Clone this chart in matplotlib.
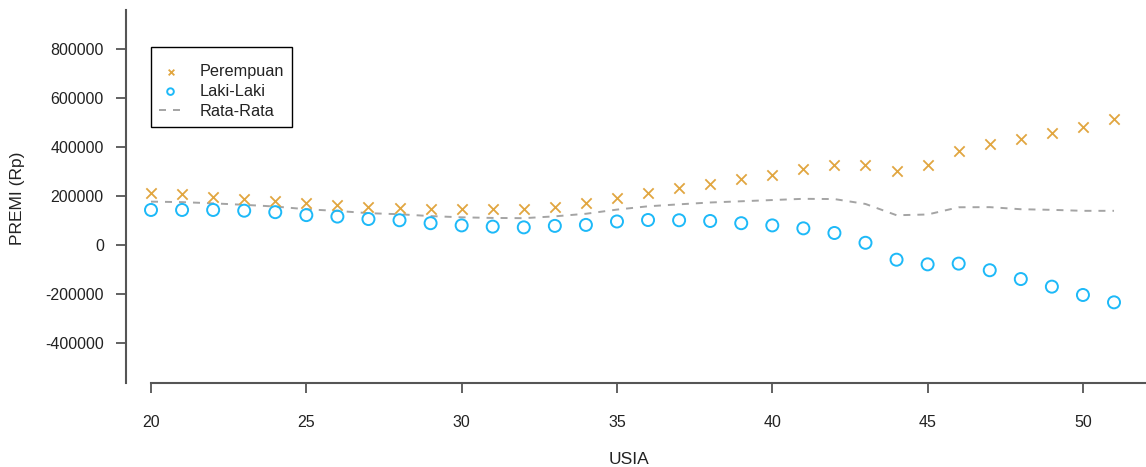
import matplotlib.pyplot as plt

usia = list(range(20, 52))

perempuan = [
    211000, 207000, 197000, 188000, 180000, 170000, 162000, 154000,
    150000, 147000, 146000, 146000, 147000, 156000, 173000, 193000,
    214000, 231000, 249000, 268000, 287000, 309000, 326000, 326000,
    303000, 328000, 384000, 412000, 431000, 457000, 483000, 513000,
]
laki_laki = [
    143000, 143000, 143000, 140000, 134000, 122000, 116000, 106000,
    101000, 89000, 80000, 75000, 72000, 78000, 82000, 96000,
    102000, 101000, 98000, 89000, 80000, 68000, 49000, 9000,
    -60000, -79000, -76000, -103000, -139000, -170000, -204000, -234000,
]
rata_rata = [(p + l) / 2 for p, l in zip(perempuan, laki_laki)]

y_ticks = [-400000, -200000, 0, 200000, 400000, 600000, 800000]
x_ticks = [20, 25, 30, 35, 40, 45, 50]

W, H = 1146, 467
plt.rcParams["font.family"] = ["Liberation Sans", "DejaVu Sans"]
fig = plt.figure(figsize=(W / 100, H / 100), dpi=100)

# plot region in pixels: left 126, right 1146, top 10, bottom 383
ax = fig.add_axes([126 / W, 1 - 383 / H, (1146 - 126) / W, (383 - 10) / H])

ax.scatter(usia, perempuan, marker="x", s=55, color="#E1A640", linewidths=1.3,
           label="Perempuan", zorder=3)
ax.scatter(usia, laki_laki, marker="o", s=75, facecolors="none",
           edgecolors="#1DB9F8", linewidths=1.4, label="Laki-Laki", zorder=3)
ax.plot(usia, rata_rata, linestyle=(0, (3.6, 3.6)), color="#A4A4A4",
        linewidth=1.4, label="Rata-Rata", zorder=2)

ax.set_xlim(19.195, 52.03)
ax.set_ylim(-563265, 959184)

for side in ["top", "right"]:
    ax.spines[side].set_visible(False)
for side in ["left", "bottom"]:
    ax.spines[side].set_color("#555555")
    ax.spines[side].set_linewidth(1.5)
ax.spines["bottom"].set_bounds(20, 52.03)

ax.set_xticks(x_ticks)
ax.set_yticks(y_ticks)
ax.set_yticklabels([str(v) for v in y_ticks])
ax.tick_params(axis="x", length=7, width=1.3, color="#555555", pad=16,
               labelsize=11.5, labelcolor="#222222")
ax.tick_params(axis="y", length=7, width=1.3, color="#555555", pad=9,
               labelsize=11.5, labelcolor="#222222")

fig.text(629 / W, 1 - 460 / H, "USIA", ha="center", va="center",
         fontsize=12.5, color="#222222")
fig.text(18 / W, 1 - 198 / H, "PREMI (Rp)", ha="center", va="center",
         rotation=90, fontsize=12.5, color="#222222")

# tiny blank title gives the extra room above the first entry
leg = ax.legend(loc="upper left", bbox_to_anchor=(151 / W, 1 - 47 / H),
                bbox_transform=fig.transFigure, fancybox=False,
                framealpha=1, edgecolor="black", fontsize=11.7,
                markerscale=0.55, handlelength=1.4, handletextpad=1.1,
                borderpad=0.5, labelspacing=0.3, borderaxespad=0,
                title=" ", title_fontsize=2.5)
leg.get_frame().set_linewidth(1.0)
for t in leg.get_texts():
    t.set_color("#222222")

fig.savefig("out.png", dpi=100)
